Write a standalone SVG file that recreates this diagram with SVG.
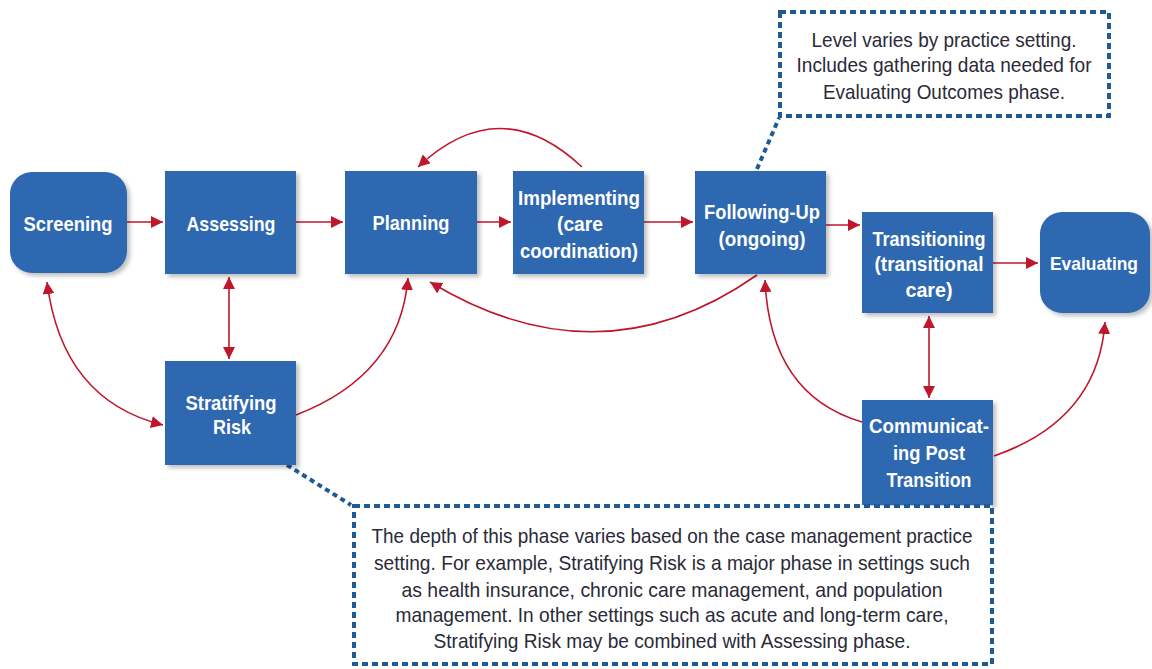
<svg xmlns="http://www.w3.org/2000/svg" width="1152" height="669" viewBox="0 0 1152 669">
<style>
.node{fill:#2e67b1;filter:url(#sh)}
.lbl{font-family:"Liberation Sans",Arial,sans-serif;font-weight:bold;font-size:21px;fill:#fff;text-anchor:middle}
.note{font-family:"Liberation Sans",Arial,sans-serif;font-size:21px;fill:#2a2a38;text-anchor:middle}
.dbox{fill:#fff;stroke:#1f5a96;stroke-width:4;stroke-dasharray:6 4}
.lead{fill:none;stroke:#1f5a96;stroke-width:4;stroke-dasharray:5 4}
.c{fill:none;stroke:#c0162c;stroke-width:1.6}
</style>
<defs>
<filter id="sh" x="-10%" y="-10%" width="130%" height="130%"><feDropShadow dx="3" dy="3" stdDeviation="2" flood-color="#000" flood-opacity="0.25"/></filter>
<marker id="ah" viewBox="0 0 10 10" refX="10" refY="5" markerWidth="12" markerHeight="12" markerUnits="userSpaceOnUse" orient="auto-start-reverse"><path d="M0,0 L10,5 L0,10 z" fill="#c0162c"/></marker>
</defs>
<rect width="1152" height="669" fill="#fff"/>

<g id="connectors">
<path class="c" d="M127,222 H163" marker-end="url(#ah)"/>
<path class="c" d="M296,222 H343" marker-end="url(#ah)"/>
<path class="c" d="M477,222 H511" marker-end="url(#ah)"/>
<path class="c" d="M644,222 H693" marker-end="url(#ah)"/>
<path class="c" d="M826,225 H860" marker-end="url(#ah)"/>
<path class="c" d="M993,263 H1038" marker-end="url(#ah)"/>
<path class="c" d="M229,277 V359" marker-start="url(#ah)" marker-end="url(#ah)"/>
<path class="c" d="M929,316 V398" marker-start="url(#ah)" marker-end="url(#ah)"/>
<path class="c" d="M47,282 Q62,400 163,425" marker-start="url(#ah)" marker-end="url(#ah)"/>
<path class="c" d="M296,415 Q400,375 408,278" marker-end="url(#ah)"/>
<path class="c" d="M582,167 Q500,90 418,167" marker-end="url(#ah)"/>
<path class="c" d="M757,275 Q600,385 430,282" marker-end="url(#ah)"/>
<path class="c" d="M862,422 Q770,395 765,280" marker-end="url(#ah)"/>
<path class="c" d="M994,456 Q1098,420 1105,322" marker-end="url(#ah)"/>
<path class="lead" d="M287,465 L351,505"/>
<path class="lead" d="M757,169 L779,118"/>
</g>

<g id="screening"><rect class="node" x="10" y="172" width="117" height="101" rx="22"/><text class="lbl" x="68" y="231" textLength="89" lengthAdjust="spacingAndGlyphs">Screening</text></g>
<g id="assessing"><rect class="node" x="165" y="171" width="131" height="103"/><text class="lbl" x="231" y="231" textLength="89" lengthAdjust="spacingAndGlyphs">Assessing</text></g>
<g id="planning"><rect class="node" x="345" y="171" width="132" height="103"/><text class="lbl" x="411" y="230" textLength="77" lengthAdjust="spacingAndGlyphs">Planning</text></g>
<g id="implementing"><rect class="node" x="513" y="171" width="131" height="103"/><text class="lbl" x="579" y="205" textLength="122" lengthAdjust="spacingAndGlyphs">Implementing</text><text class="lbl" x="580" y="231" textLength="46" lengthAdjust="spacingAndGlyphs">(care</text><text class="lbl" x="579" y="258" textLength="118" lengthAdjust="spacingAndGlyphs">coordination)</text></g>
<g id="following-up"><rect class="node" x="695" y="171" width="131" height="103"/><text class="lbl" x="762" y="219" textLength="116" lengthAdjust="spacingAndGlyphs">Following-Up</text><text class="lbl" x="762" y="246" textLength="87" lengthAdjust="spacingAndGlyphs">(ongoing)</text></g>
<g id="transitioning"><rect class="node" x="862" y="212" width="131" height="101"/><text class="lbl" x="929" y="246" textLength="113" lengthAdjust="spacingAndGlyphs">Transitioning</text><text class="lbl" x="929" y="271" textLength="109" lengthAdjust="spacingAndGlyphs">(transitional</text><text class="lbl" x="929" y="297" textLength="47" lengthAdjust="spacingAndGlyphs">care)</text></g>
<g id="evaluating"><rect class="node" x="1040" y="212" width="110" height="101" rx="22"/><text class="lbl" x="1094" y="270" style="font-size:19px" textLength="88" lengthAdjust="spacingAndGlyphs">Evaluating</text></g>
<g id="stratifying"><rect class="node" x="165" y="361" width="131" height="104"/><text class="lbl" x="231" y="410" textLength="91" lengthAdjust="spacingAndGlyphs">Stratifying</text><text class="lbl" x="232" y="434" textLength="38" lengthAdjust="spacingAndGlyphs">Risk</text></g>
<g id="communicating"><rect class="node" x="862" y="400" width="131" height="105"/><text class="lbl" x="929" y="433" textLength="120" lengthAdjust="spacingAndGlyphs">Communicat-</text><text class="lbl" x="929" y="460" textLength="72" lengthAdjust="spacingAndGlyphs">ing Post</text><text class="lbl" x="929" y="487" textLength="85" lengthAdjust="spacingAndGlyphs">Transition</text></g>

<g id="note-top"><rect class="dbox" x="780" y="12" width="329" height="104"/>
<text class="note" x="944" y="47" textLength="265" lengthAdjust="spacingAndGlyphs">Level varies by practice setting.</text>
<text class="note" x="944" y="72" textLength="295" lengthAdjust="spacingAndGlyphs">Includes gathering data needed for</text>
<text class="note" x="944" y="99" textLength="242" lengthAdjust="spacingAndGlyphs">Evaluating Outcomes phase.</text></g>

<g id="note-bottom"><rect class="dbox" x="354" y="506" width="638" height="158"/>
<text class="note" x="672" y="543" textLength="601" lengthAdjust="spacingAndGlyphs">The depth of this phase varies based on the case management practice</text>
<text class="note" x="672" y="570" textLength="596" lengthAdjust="spacingAndGlyphs">setting. For example, Stratifying Risk is a major phase in settings such</text>
<text class="note" x="672" y="597" textLength="541" lengthAdjust="spacingAndGlyphs">as health insurance, chronic care management, and population</text>
<text class="note" x="672" y="622" textLength="553" lengthAdjust="spacingAndGlyphs">management. In other settings such as acute and long-term care,</text>
<text class="note" x="672" y="648" textLength="477" lengthAdjust="spacingAndGlyphs">Stratifying Risk may be combined with Assessing phase.</text></g>
</svg>
